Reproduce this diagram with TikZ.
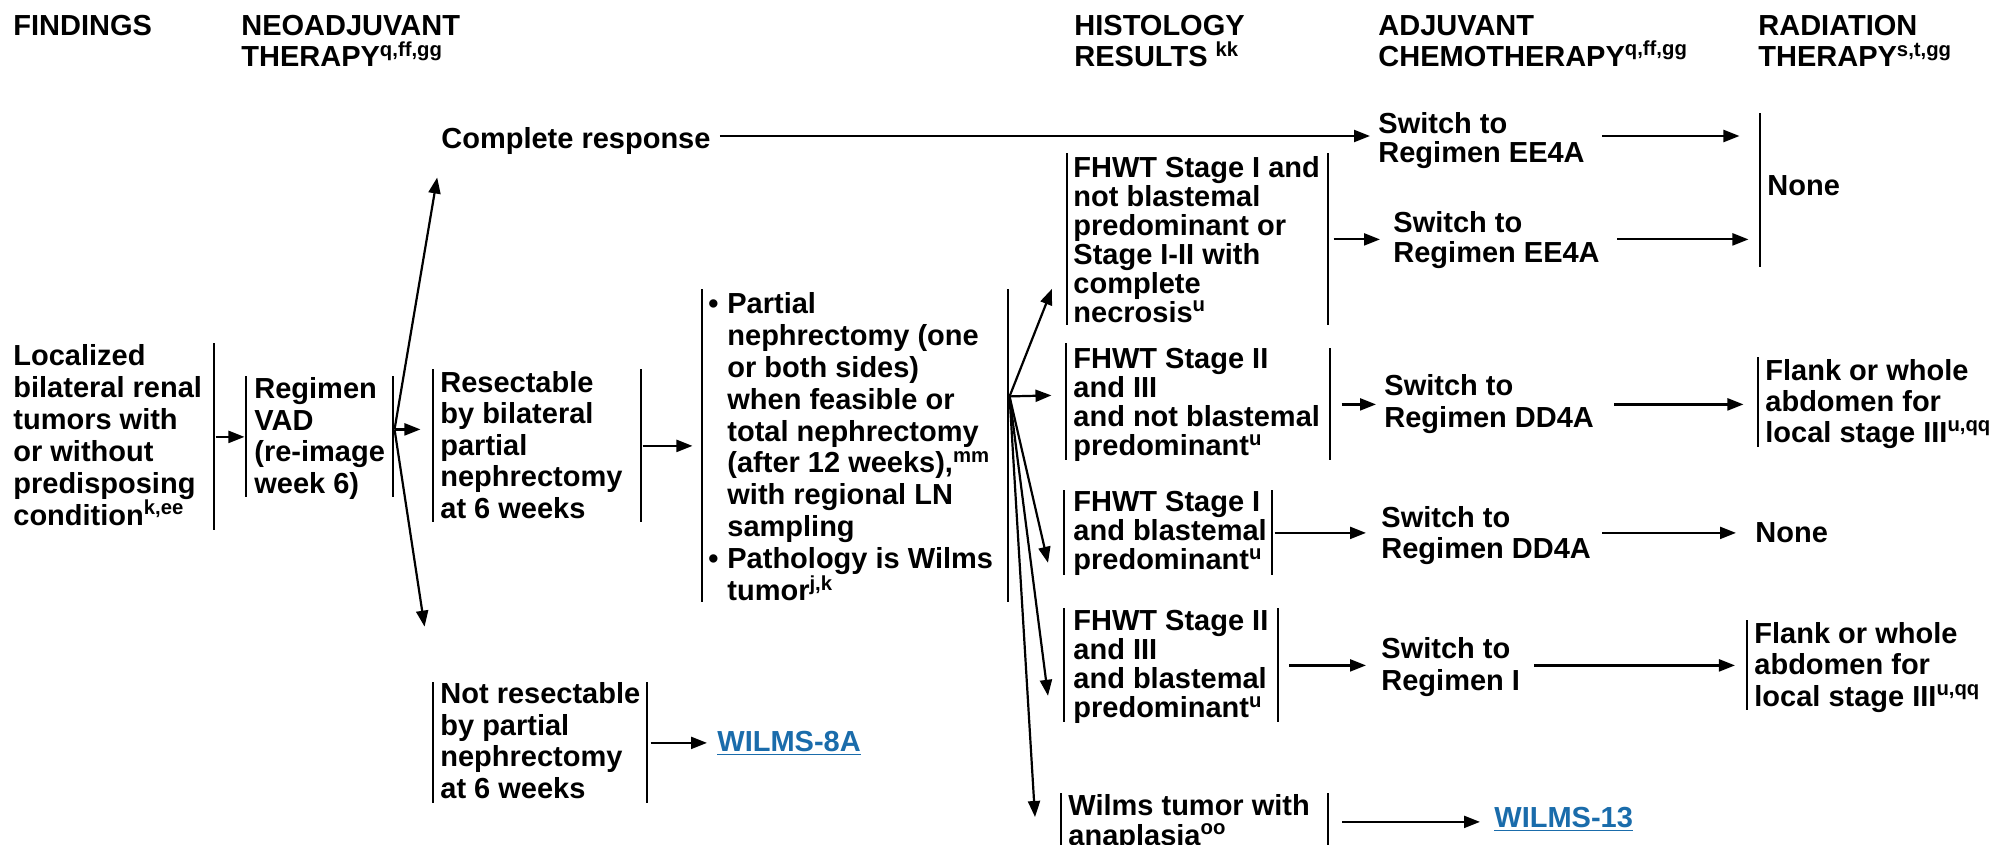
\documentclass[tikz,border=0pt]{standalone}
\usepackage{fontspec}
\setmainfont{Liberation Sans}
\usetikzlibrary{arrows.meta}
\definecolor{linkblue}{HTML}{1A6CAB}
\newcommand\supx[1]{\textsuperscript{#1}}
\newcommand\bul{\makebox[9.5pt][l]{\textbullet}}
\newcommand\ind{\hspace*{9.5pt}}
\begin{document}
\begin{tikzpicture}[x=0.5pt, y=-0.5pt,
  txt/.style={anchor=north west, align=left, inner sep=0pt,
    font=\bfseries\fontsize{14.5}{#1}\selectfont},
  txt/.default=16pt,
  link/.style={txt, text=linkblue},
  bar/.style={anchor=north, fill=black, inner sep=0pt, minimum width=1.15pt, minimum height=#1},
  arr/.style={line width=1.1pt, -{Triangle[length=8pt,width=6pt]}},
]
\fill[white] (0,0) rectangle (2003,845);
\useasboundingbox (0,0) rectangle (2003,845);

% column headings
\node[txt=15.5pt] (hFind) at (13,15) {FINDINGS};
\node[txt=15.5pt] (hNeo)  at (241,15) {NEOADJUVANT\\THERAPY\supx{q,ff,gg}};
\node[txt=15.5pt] (hHist) at (1074,15) {HISTOLOGY\\RESULTS \supx{kk}};
\node[txt=15.5pt] (hAdj)  at (1378,15) {ADJUVANT\\CHEMOTHERAPY\supx{q,ff,gg}};
\node[txt=15.5pt] (hRad)  at (1758,15) {RADIATION\\THERAPY\supx{s,t,gg}};

% findings and neoadjuvant therapy
\node[txt=16pt] (loc) at (13,344) {Localized\\bilateral renal\\tumors with\\or without\\predisposing\\condition\supx{k,ee}};
\node[bar=93.5pt] (locR) at (214,343) {};
\node[bar=60.5pt] (vadL) at (246,376) {};
\node[bar=60.5pt] (vadR) at (393,376) {};
\node[txt=15.85pt] (vad) at (254,377) {Regimen\\VAD\\(re-image\\week 6)};

% response at 6 weeks
\node[txt] (cr) at (441,127) {Complete response};
\node[bar=76.5pt] (resL) at (433,369) {};
\node[bar=76.5pt] (resR) at (641,369) {};
\node[txt=15.75pt] (res) at (440,371) {Resectable\\by bilateral\\partial\\nephrectomy\\at 6 weeks};
\node[bar=60.5pt] (nrL) at (433,682) {};
\node[bar=60.5pt] (nrR) at (647,682) {};
\node[txt=15.85pt] (nr) at (440,682) {Not resectable\\by partial\\nephrectomy\\at 6 weeks};
\node[link] (w8a) at (717,731) {\underline{WILMS-8A}};

% surgery
\node[bar=156.5pt] (partL) at (702,289) {};
\node[bar=156.5pt] (partR) at (1008,289) {};
\node[txt=15.95pt] (part) at (708,292) {\bul Partial\\\ind nephrectomy (one\\\ind or both sides)\\\ind when feasible or\\\ind total nephrectomy\\\ind (after 12 weeks),\supx{mm}\\\ind with regional LN\\\ind sampling\\\bul Pathology is Wilms\\\ind tumor\supx{j,k}};

% histology results
\node[bar=86pt] (f1L) at (1067,153) {};
\node[bar=86pt] (f1R) at (1328,153) {};
\node[txt=14.5pt] (f1) at (1073,156) {FHWT Stage I and\\not blastemal\\predominant or\\Stage I-II with\\complete\\necrosis\supx{u}};
\node[bar=58.5pt] (f2L) at (1066,343) {};
\node[bar=56pt] (f2R) at (1330,348) {};
\node[txt=14.5pt] (f2) at (1073,348) {FHWT Stage II\\and III\\and not blastemal\\predominant\supx{u}};
\node[bar=42.5pt] (f3L) at (1064,490) {};
\node[bar=42.5pt] (f3R) at (1272,490) {};
\node[txt=14.5pt] (f3) at (1073,491) {FHWT Stage I\\and blastemal\\predominant\supx{u}};
\node[bar=57pt] (f4L) at (1064,608) {};
\node[bar=57pt] (f4R) at (1278,608) {};
\node[txt=14.5pt] (f4) at (1073,610) {FHWT Stage II\\and III\\and blastemal\\predominant\supx{u}};
\node[bar=28.5pt] (anL) at (1061,793) {};
\node[bar=28.5pt] (anR) at (1328,793) {};
\node[txt=15pt] (an) at (1068,794) {Wilms tumor with\\anaplasia\supx{oo}};
\node[link] (w13) at (1494,807) {\underline{WILMS-13}};

% adjuvant chemotherapy
\node[txt=14.5pt] (sw1) at (1378,112) {Switch to\\Regimen EE4A};
\node[txt=15pt]   (sw2) at (1393,211) {Switch to\\Regimen EE4A};
\node[txt=16pt]   (sw3) at (1384,374) {Switch to\\Regimen DD4A};
\node[txt=15.5pt] (sw4) at (1381,506) {Switch to\\Regimen DD4A};
\node[txt=16pt]   (sw5) at (1381,637) {Switch to\\Regimen I};

% radiation therapy
\node[bar=77pt] (noneL) at (1760,113) {};
\node[txt] (none1) at (1767,175) {None};
\node[bar=45pt] (fl1L) at (1758,357) {};
\node[txt=15.5pt] (fl1) at (1765,359) {Flank or whole\\abdomen for\\local stage III\supx{u,qq}};
\node[txt] (none2) at (1755,522) {None};
\node[bar=45pt] (fl2L) at (1747,620) {};
\node[txt=15.75pt] (fl2) at (1754,622) {Flank or whole\\abdomen for\\local stage III\supx{u,qq}};

% connectors
\coordinate (row1) at (0,136);
\coordinate (vadfan) at ([yshift=3.75pt]vadR.east);
\coordinate (partfan) at ([yshift=24.75pt]partR.east);

\draw[arr] (locR.east |- vadL.west) -- (vadL.west);
\draw[arr, shorten >=11.5pt] (vadfan) -- (cr.south west);
\draw[arr, shorten >=5.5pt] (vadfan) -- (vadfan -| resL.west);
\draw[arr, shorten >=28pt] (vadfan) -- (nrL.north);
\draw[arr, shorten >=4pt] (resR.east) -- (resR.east -| partL.west);
\draw[arr, shorten <=1pt, shorten >=5pt] (nrR.east) -- (nrR.east -| w8a.west);

\draw[arr] (partfan) -- ([xshift=-7.5pt, yshift=18.5pt]f1L.south);
\draw[arr] (partfan) -- ([xshift=-6.5pt, yshift=3.25pt]f2L.west);
\draw[arr] (partfan) -- ([xshift=-8pt, yshift=6.5pt]f3L.south);
\draw[arr] (partfan) -- ([xshift=-8pt, yshift=13.5pt]f4L.south);
\draw[arr] (partfan) -- ([xshift=-13pt, yshift=-12pt]anL.north);

\draw[arr, shorten <=4.5pt, shorten >=4pt] (cr.east |- row1) -- (sw1.west |- row1);
\draw[arr, shorten <=8.5pt, shorten >=9.5pt] (sw1.east |- row1) -- (noneL.west |- row1);
\draw[arr, shorten <=2pt, shorten >=6.5pt] (f1R.east) -- (f1R.east -| sw2.west);
\draw[arr, shorten <=8.5pt, shorten >=5pt] (sw2.east |- f1R.east) -- (noneL.west |- f1R.east);
\draw[arr, shorten <=5pt, shorten >=4pt] (f2R.east) -- (f2R.east -| sw3.west);
\draw[arr, shorten <=10pt, shorten >=6.5pt] (sw3.east |- f2R.east) -- (fl1L.west |- f2R.east);
\draw[arr, shorten <=0.5pt, shorten >=7.5pt] (f3R.east) -- (f3R.east -| sw4.west);
\draw[arr, shorten <=5.5pt, shorten >=9.5pt] (sw4.east |- f3R.east) -- (none2.west |- f3R.east);
\draw[arr, shorten <=4.75pt, shorten >=7.5pt] (f4R.east) -- (f4R.east -| sw5.west);
\draw[arr, shorten <=7pt, shorten >=5.25pt] (sw5.east |- f4R.east) -- (fl2L.west |- f4R.east);
\draw[arr, shorten <=6.25pt, shorten >=7pt] (anR.east) -- (anR.east -| w13.west);
\end{tikzpicture}
\end{document}
